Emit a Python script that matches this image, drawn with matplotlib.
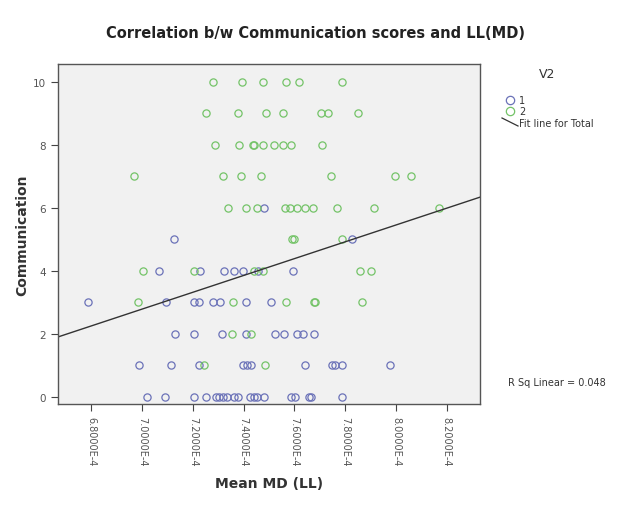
import numpy as np
import matplotlib
matplotlib.use("Agg")
import matplotlib.pyplot as plt
from matplotlib.lines import Line2D
from matplotlib.ticker import FuncFormatter

# Mean MD (LL) values in units of 1E-4, grouped by communication score
g1_x = [6.787, 7.093, 7.204, 7.223, 7.280, 7.309, 7.409, 7.509,   # 3
        7.068, 7.228, 7.322, 7.364, 7.398, 7.456, 7.595,          # 4
        7.127, 7.828,                                             # 5
        7.482,                                                    # 6
        7.132, 7.207, 7.317, 7.410, 7.524, 7.559, 7.611, 7.633, 7.679,  # 2
        6.989, 7.115, 7.223, 7.397, 7.414, 7.430, 7.641, 7.749, 7.761, 7.787, 7.976,  # 1
        7.020, 7.089, 7.207, 7.254, 7.292, 7.305, 7.318, 7.335, 7.364, 7.377,
        7.427, 7.440, 7.454, 7.480, 7.585, 7.603, 7.656, 7.666, 7.788]  # 0
g1_y = [3] * 8 + [4] * 7 + [5] * 2 + [6] + [2] * 9 + [1] * 11 + [0] * 19

g2_x = [7.280, 7.393, 7.475, 7.569, 7.619, 7.787,                          # 10
        7.254, 7.380, 7.488, 7.555, 7.706, 7.734, 7.852,                   # 9
        7.288, 7.384, 7.436, 7.442, 7.478, 7.519, 7.555, 7.587, 7.709,     # 8
        6.967, 7.320, 7.391, 7.467, 7.745, 7.998, 8.060,                   # 7
        7.339, 7.408, 7.454, 7.564, 7.583, 7.610, 7.640, 7.673, 7.769, 7.912, 8.171,  # 6
        7.590, 7.598, 7.788,                                               # 5
        7.006, 7.204, 7.443, 7.475, 7.860, 7.902,                          # 4
        6.984, 7.359, 7.568, 7.676, 7.682, 7.866,                          # 3
        7.354, 7.430,                                                      # 2
        7.246, 7.486]                                                      # 1
g2_y = [10] * 6 + [9] * 7 + [8] * 9 + [7] * 7 + [6] * 11 + [5] * 3 + [4] * 6 + [3] * 6 + [2] * 2 + [1] * 2

x_ticks = [6.8, 7.0, 7.2, 7.4, 7.6, 7.8, 8.0, 8.2]
y_ticks = [0, 2, 4, 6, 8, 10]
r_sq = 0.048

blue = "#6b72b8"
green = "#74c368"
gray_txt = "#555555"

fig = plt.figure(figsize=(6.24, 5.10), dpi=100)
fig.patch.set_facecolor("white")
ax = fig.add_axes([0.093, 0.206, 0.676, 0.667])
ax.set_facecolor("#f1f1f1")

ax.plot(np.array(g1_x) * 1e-4, g1_y, "o", mfc="none", mec=blue, ms=5.2, mew=0.9)
ax.plot(np.array(g2_x) * 1e-4, g2_y, "o", mfc="none", mec=green, ms=5.2, mew=0.9)

# fit line for total
all_x = np.array(g1_x + g2_x) * 1e-4
all_y = np.array(g1_y + g2_y)
slope, intercept = np.polyfit(all_x, all_y, 1)
xl = np.array([6.67e-4, 8.33e-4])
ax.plot(xl, slope * xl + intercept, color="#333333", lw=1.0)

ax.set_xlim(6.67e-4, 8.33e-4)
ax.set_ylim(-0.22, 10.57)
ax.set_xticks(np.array(x_ticks) * 1e-4)
ax.set_yticks(y_ticks)
ax.xaxis.set_major_formatter(FuncFormatter(lambda v, p: f"{v * 1e4:.4f}E-4"))
ax.tick_params(axis="x", labelrotation=270, labelsize=7, colors="#444444", length=5, labelcolor=gray_txt)
ax.tick_params(axis="y", labelsize=7.5, colors="#444444", length=5, labelcolor=gray_txt)
for s in ax.spines.values():
    s.set_color("#555555")
    s.set_linewidth(1.0)

ax.set_xlabel("Mean MD (LL)", fontsize=10, fontweight="bold", color="#333333", labelpad=8)
ax.set_ylabel("Communication", fontsize=10, fontweight="bold", color="#333333", labelpad=3)
fig.text(0.505, 1 - 33 / 510, "Correlation b/w Communication scores and LL(MD)",
         ha="center", va="center", fontsize=10.5, fontweight="bold", color="#222222")

# legend drawn by hand
fig.text(547 / 624, 1 - 75 / 510, "V2", ha="center", va="center", fontsize=9, color="#333333")
for yy, col, lab in [(101, blue, "1"), (112, green, "2")]:
    fig.add_artist(Line2D([510 / 624], [1 - yy / 510], marker="o", mfc="none", mec=col,
                          ms=6, mew=0.9, transform=fig.transFigure))
    fig.text(519 / 624, 1 - yy / 510, lab, ha="left", va="center", fontsize=7, color="#333333")
fig.add_artist(Line2D([502 / 624, 518 / 624], [1 - 119 / 510, 1 - 127 / 510],
                      color="#333333", lw=0.9, transform=fig.transFigure))
fig.text(519 / 624, 1 - 124 / 510, "Fit line for Total", ha="left", va="center",
         fontsize=7, color="#333333")

fig.text(508 / 624, 1 - 383 / 510, f"R Sq Linear = {r_sq:.3f}", ha="left", va="center",
         fontsize=7, color="#333333")

fig.savefig("out.png", dpi=100)
